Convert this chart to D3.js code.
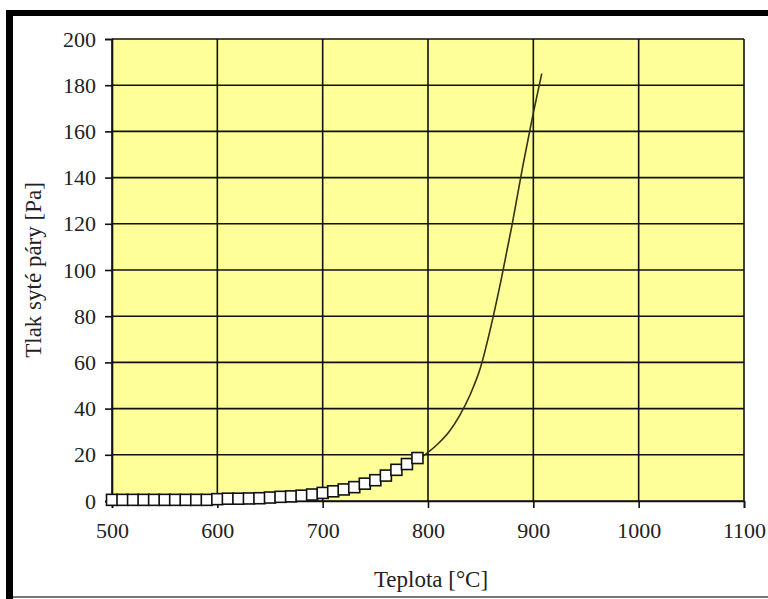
<!DOCTYPE html>
<html lang="cs">
  <head>
    <meta charset="UTF-8">
    <title>Tlak syté páry</title>
    <style>
      html,body{
        margin: 0;
        padding: 0;
        background-color: #fff;
      }
    </style>
  </head>
  <body>
    <div id="graf"></div>
    <script src="https://d3js.org/d3.v7.min.js"></script>
    <script>
      // body (čtverečky) – teplota [°C], tlak [Pa]
      var bodyTeplota = [500,510,520,530,540,550,560,570,580,590,600,610,620,630,640,650,660,670,680,690,700,710,720,730,740,750,760,770,780,790];
      var bodyTlak    = [0.5,0.5,0.5,0.5,0.5,0.5,0.5,0.5,0.5,0.5,0.8,1.0,1.0,1.1,1.2,1.5,1.8,2.0,2.3,2.8,3.5,4.2,5.0,6.0,7.5,9.0,11,13.5,16,18.6];
      // čára
      var caraTeplota = [600,620,640,660,680,700,720,740,760,780,800,810,820,830,840,850,860,870,880,890,900,908];
      var caraTlak    = [0.2,0.3,0.5,0.9,1.6,2.8,4.5,7,10.5,15,21,25,30,37,46,58,76,97,120,145,168,185];
      var xTicks = [500,600,700,800,900,1000,1100];
      var yTicks = [0,20,40,60,80,100,120,140,160,180,200];

      var graf = {
        init: function(){
          var sirka = 768, vyska = 599;
          var okraj = {left: 112, right: 744, top: 39, bottom: 501};
          var pismo = "'Liberation Serif'";

          var svg = d3.select("#graf").append("svg")
            .attr("width", sirka)
            .attr("height", vyska);

          // rámeček
          svg.append("rect").attr("x", 6).attr("y", 10).attr("width", 7).attr("height", vyska - 10).attr("fill", "#000");
          svg.append("rect").attr("x", 6).attr("y", 10).attr("width", sirka - 6).attr("height", 6).attr("fill", "#000");
          svg.append("rect").attr("x", 13).attr("y", 596).attr("width", sirka - 13).attr("height", 2).attr("fill", "#777");

          var x = d3.scaleLinear().domain([500, 1100]).range([okraj.left, okraj.right]);
          var y = d3.scaleLinear().domain([0, 200]).range([okraj.bottom, okraj.top]);

          svg.append("rect")
            .attr("x", okraj.left).attr("y", okraj.top)
            .attr("width", okraj.right - okraj.left)
            .attr("height", okraj.bottom - okraj.top)
            .attr("fill", "#ffff99");

          // mřížka
          svg.append("g").selectAll("line").data(yTicks).join("line")
            .attr("x1", okraj.left).attr("x2", okraj.right)
            .attr("y1", function(d){ return y(d); }).attr("y2", function(d){ return y(d); })
            .attr("stroke", "#111").attr("stroke-width", 1.6);
          svg.append("g").selectAll("line").data(xTicks).join("line")
            .attr("x1", function(d){ return x(d); }).attr("x2", function(d){ return x(d); })
            .attr("y1", okraj.top).attr("y2", okraj.bottom)
            .attr("stroke", "#111").attr("stroke-width", 1.6);

          // osy
          var osaX = svg.append("g")
            .attr("transform", "translate(0," + okraj.bottom + ")")
            .call(d3.axisBottom(x).tickValues(xTicks).tickSize(7).tickPadding(14).tickFormat(d3.format("d")));
          var osaY = svg.append("g")
            .attr("transform", "translate(" + okraj.left + ",0)")
            .call(d3.axisLeft(y).tickValues(yTicks).tickSize(7).tickPadding(9).tickFormat(d3.format("d")));
          [osaX, osaY].forEach(function(o){
            o.select(".domain").attr("stroke", "#111").attr("stroke-width", 1.6);
            o.selectAll(".tick line").attr("stroke", "#111").attr("stroke-width", 1.6);
            o.selectAll("text")
              .attr("fill", "#222")
              .style("font-family", pismo)
              .style("font-size", "22px");
          });

          // čára
          var line = d3.line()
            .x(function(d, i){ return x(caraTeplota[i]); })
            .y(function(d){ return y(d); })
            .curve(d3.curveMonotoneX);
          svg.append("path")
            .datum(caraTlak)
            .attr("d", line)
            .attr("fill", "none")
            .attr("stroke", "#33330a")
            .attr("stroke-width", 1.6);

          // body
          svg.append("g").selectAll("rect").data(bodyTlak).join("rect")
            .attr("x", function(d, i){ return x(bodyTeplota[i]) - 5.5; })
            .attr("y", function(d){ return y(d) - 5.5; })
            .attr("width", 11).attr("height", 11)
            .attr("fill", "#fff")
            .attr("stroke", "#111")
            .attr("stroke-width", 1.6);

          // popisky os
          svg.append("text")
            .attr("x", (okraj.left + okraj.right) / 2 + 3)
            .attr("y", 587)
            .attr("text-anchor", "middle")
            .attr("fill", "#222")
            .style("font-family", pismo)
            .style("font-size", "23px")
            .text("Teplota [°C]");
          svg.append("text")
            .attr("transform", "translate(41," + ((okraj.top + okraj.bottom) / 2) + ") rotate(-90)")
            .attr("text-anchor", "middle")
            .attr("fill", "#222")
            .style("font-family", pismo)
            .style("font-size", "23px")
            .text("Tlak syté páry  [Pa]");
        }
      };
      graf.init();
    </script>
  </body>
</html>
